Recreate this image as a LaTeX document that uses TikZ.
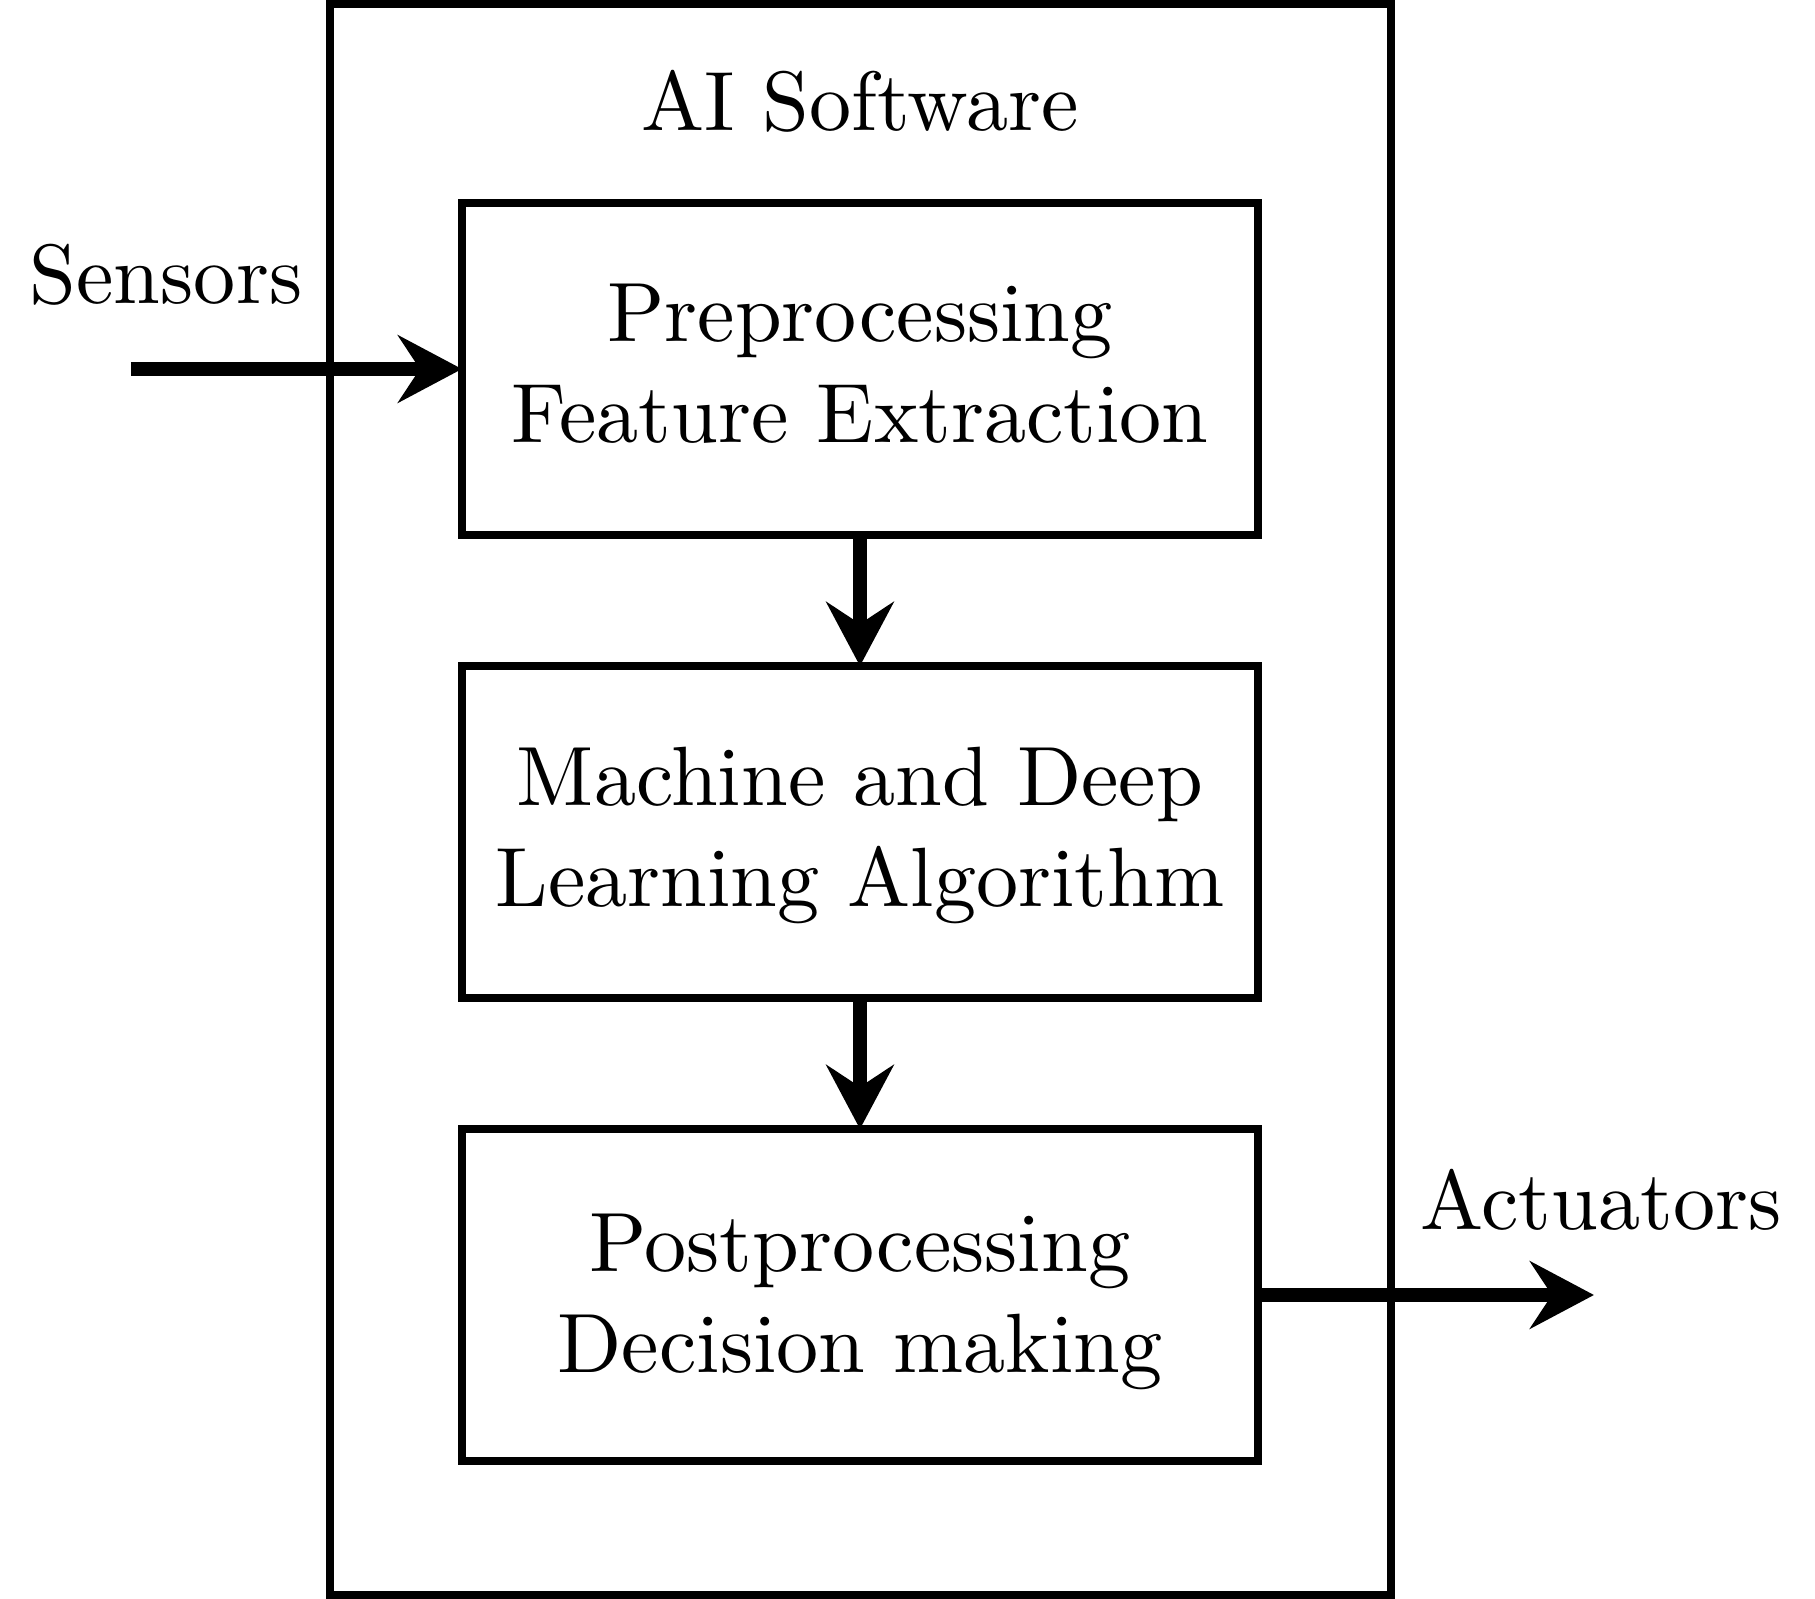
\documentclass[tikz,border=0pt]{standalone}
\usetikzlibrary{arrows.meta}
\begin{document}
\begin{tikzpicture}[x=0.1188pt,y=-0.1188pt,
  blockbox/.style={draw, line width=1pt, minimum width=94.57pt, minimum height=39.44pt, inner sep=0pt, outer sep=0pt},
  blocktext/.style={align=center, inner sep=0pt},
  outerbox/.style={draw, line width=1pt, minimum width=126.05pt, minimum height=189.07pt, inner sep=0pt},
  flow/.style={line width=1.6pt, -{Stealth[length=7.6pt, width=8pt, inset=2.6pt]}},
  lbl/.style={anchor=base, inner sep=0pt}]
\useasboundingbox (0,0) rectangle (1815,1599);
\node[outerbox] (outer) at (860.5,799.5) {};
\node[lbl] (title) at (860,130) {AI Software};
\node[blockbox] (b1) at (860,369) {};
\node[blockbox] (b2) at (860,832) {};
\node[blockbox] (b3) at (860,1295) {};
\node[blocktext] (t1) at (860,364) {Preprocessing\\Feature Extraction};
\node[blocktext] (t2) at (860,835.5) {Machine and Deep\\Learning Algorithm};
\node[blocktext] (t3) at (860,1302) {Postprocessing\\Decision making};
\node[lbl] (sens) at (166,303) {Sensors};
\node[lbl] (act) at (1601,1229) {Actuators};
\coordinate (sin) at (131,369);
\coordinate (aout) at (1594,1295);
\draw[flow] (sin) -- (b1.west);
\draw[flow] (b1.south) -- (b2.north);
\draw[flow] (b2.south) -- (b3.north);
\draw[flow] (b3.east) -- (aout);
\end{tikzpicture}
\end{document}
